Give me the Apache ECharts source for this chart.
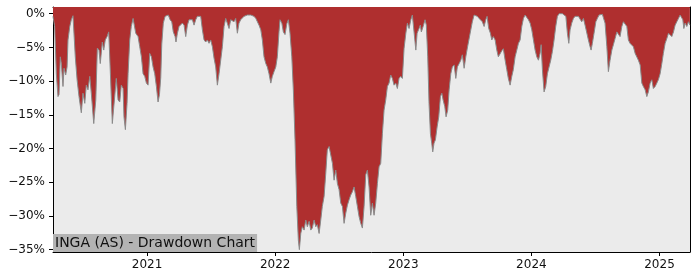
<!DOCTYPE html>
<html>
<head>
<meta charset="utf-8">
<script src="https://cdn.jsdelivr.net/npm/echarts@6/dist/echarts.min.js"></script>
<style>
html,body{margin:0;padding:0;background:#fff;}
#chart{width:700px;height:280px;}
</style>
</head>
<body>
<div id="chart"></div>
<script>
// decimal years (time) of each observation
const years = [
2020.266,2020.279,2020.292,2020.305,2020.313,2020.323,2020.331,2020.344,2020.352,2020.365,
2020.376,2020.383,2020.397,2020.409,2020.422,2020.432,2020.440,2020.454,2020.469,2020.487,
2020.500,2020.514,2020.526,2020.539,2020.553,2020.565,2020.584,2020.600,2020.612,2020.625,
2020.635,2020.651,2020.662,2020.674,2020.688,2020.701,2020.714,2020.729,2020.742,2020.760,
2020.774,2020.787,2020.799,2020.813,2020.820,2020.831,2020.844,2020.852,2020.865,2020.877,
2020.891,2020.899,2020.912,2020.930,2020.943,2020.956,2020.969,2020.982,2020.995,2021.008,
2021.021,2021.034,2021.047,2021.060,2021.073,2021.086,2021.097,2021.107,2021.115,2021.127,
2021.141,2021.154,2021.166,2021.180,2021.193,2021.205,2021.219,2021.226,2021.237,2021.250,
2021.263,2021.276,2021.289,2021.302,2021.315,2021.328,2021.341,2021.354,2021.367,2021.380,
2021.393,2021.406,2021.419,2021.432,2021.445,2021.458,2021.471,2021.484,2021.497,2021.510,
2021.523,2021.536,2021.549,2021.562,2021.575,2021.588,2021.601,2021.614,2021.627,2021.640,
2021.653,2021.666,2021.679,2021.692,2021.705,2021.718,2021.731,2021.744,2021.757,2021.770,
2021.783,2021.796,2021.810,2021.822,2021.835,2021.849,2021.861,2021.874,2021.888,2021.900,
2021.913,2021.927,2021.939,2021.952,2021.966,2021.978,2021.991,2022.005,2022.017,2022.030,
2022.038,2022.052,2022.064,2022.077,2022.091,2022.103,2022.116,2022.130,2022.142,2022.155,
2022.169,2022.181,2022.189,2022.200,2022.212,2022.226,2022.239,2022.251,2022.265,2022.278,
2022.290,2022.304,2022.317,2022.329,2022.343,2022.356,2022.368,2022.382,2022.395,2022.407,
2022.421,2022.434,2022.447,2022.460,2022.473,2022.486,2022.499,2022.512,2022.525,2022.538,
2022.551,2022.564,2022.577,2022.590,2022.603,2022.616,2022.629,2022.642,2022.655,2022.668,
2022.681,2022.694,2022.707,2022.720,2022.733,2022.746,2022.759,2022.772,2022.785,2022.798,
2022.811,2022.824,2022.837,2022.850,2022.863,2022.876,2022.889,2022.902,2022.915,2022.928,
2022.941,2022.954,2022.967,2022.980,2022.993,2023.006,2023.020,2023.032,2023.045,2023.059,
2023.071,2023.084,2023.098,2023.108,2023.123,2023.133,2023.141,2023.155,2023.170,2023.180,
2023.191,2023.201,2023.212,2023.222,2023.230,2023.240,2023.251,2023.264,2023.277,2023.290,
2023.301,2023.311,2023.324,2023.334,2023.347,2023.358,2023.371,2023.383,2023.397,2023.410,
2023.422,2023.436,2023.449,2023.461,2023.475,2023.488,2023.500,2023.514,2023.527,2023.539,
2023.553,2023.566,2023.578,2023.592,2023.605,2023.617,2023.631,2023.644,2023.654,2023.667,
2023.680,2023.691,2023.703,2023.717,2023.730,2023.742,2023.756,2023.769,2023.781,2023.795,
2023.808,2023.820,2023.834,2023.847,2023.859,2023.873,2023.886,2023.899,2023.912,2023.925,
2023.938,2023.951,2023.964,2023.977,2023.990,2024.003,2024.016,2024.029,2024.042,2024.055,
2024.068,2024.076,2024.086,2024.099,2024.112,2024.125,2024.138,2024.151,2024.164,2024.177,
2024.190,2024.203,2024.216,2024.230,2024.242,2024.255,2024.269,2024.281,2024.292,2024.302,
2024.315,2024.328,2024.341,2024.354,2024.367,2024.380,2024.393,2024.406,2024.419,2024.433,
2024.445,2024.458,2024.466,2024.476,2024.489,2024.503,2024.515,2024.528,2024.542,2024.554,
2024.562,2024.575,2024.589,2024.601,2024.614,2024.628,2024.640,2024.653,2024.667,2024.679,
2024.692,2024.706,2024.718,2024.731,2024.745,2024.757,2024.770,2024.784,2024.796,2024.810,
2024.823,2024.835,2024.849,2024.862,2024.874,2024.888,2024.901,2024.913,2024.927,2024.940,
2024.952,2024.966,2024.979,2024.991,2025.005,2025.018,2025.030,2025.044,2025.057,2025.070,
2025.083,2025.096,2025.109,2025.122,2025.135,2025.148,2025.161,2025.174,2025.182,2025.190,
2025.200,2025.213,2025.226,2025.237
];
// drawdown in percent
const drawdown = [
-0.4,-1.9,-8.9,-12.3,-12.0,-6.4,-7.4,-10.8,-8.1,-9.1,
-7.9,-3.9,-1.9,-0.9,-0.3,-0.2,-6.4,-9.8,-12.3,-14.7,
-11.8,-13.3,-10.6,-11.3,-9.3,-11.8,-16.3,-12.8,-5.1,-5.4,
-7.4,-4.2,-5.4,-3.9,-3.4,-2.7,-8.9,-16.3,-16.5,-9.6,
-12.8,-13.1,-10.6,-11.1,-15.3,-17.2,-13.3,-8.9,-3.9,-1.9,
-0.7,-0.9,-2.9,-3.4,-4.9,-6.4,-8.9,-9.3,-10.3,-10.6,
-5.9,-6.4,-7.9,-8.9,-10.8,-13.1,-12.0,-9.5,-4.5,-1.4,
-0.4,-0.2,-0.2,-0.9,-1.2,-2.7,-3.4,-4.2,-2.9,-1.9,
-1.7,-1.4,-1.7,-3.4,-1.7,-0.9,-0.7,-0.9,-1.7,-0.9,
-0.4,-0.2,-0.4,-2.4,-3.9,-4.2,-3.9,-4.4,-3.9,-4.9,
-6.6,-7.9,-10.6,-8.9,-6.9,-4.9,-1.9,-0.7,-0.9,-2.2,
-0.9,-0.9,-1.2,-0.7,-2.9,-1.4,-0.9,-0.7,-0.4,-0.4,
-0.2,0,-0.2,-0.2,-0.4,-0.7,-0.9,-1.7,-2.4,-3.9,
-6.4,-7.4,-7.9,-8.9,-10.3,-9.3,-8.6,-7.9,-6.4,-2.7,
-0.9,-1.4,-2.7,-3.1,-1.5,-0.9,-2.9,-6.4,-11.3,-18.7,
-28.6,-33.6,-35.0,-32.6,-31.6,-32.1,-30.6,-31.6,-30.8,-32.1,
-31.8,-30.6,-31.6,-31.3,-32.6,-30.6,-28.6,-27.1,-23.7,-20.2,
-19.7,-19.5,-22.2,-24.7,-23.2,-25.2,-26.1,-28.1,-28.6,-31.1,
-29.6,-28.4,-27.6,-26.9,-26.4,-25.7,-27.1,-28.6,-30.1,-31.1,
-31.8,-28.6,-23.9,-23.2,-25.7,-29.9,-28.1,-29.9,-28.1,-25.2,
-22.7,-22.2,-17.8,-14.3,-12.8,-10.8,-10.3,-9.1,-9.6,-10.6,
-10.3,-11.1,-9.6,-9.3,-9.6,-5.2,-2.9,-1.4,-2.2,-0.9,
-0.2,-0.4,-5.4,-2.9,-2.2,-1.7,-2.7,-1.9,-0.9,-1.7,
-6.4,-13.3,-17.8,-19.2,-20.5,-19.2,-18.7,-16.8,-15.3,-12.3,
-11.8,-12.8,-13.8,-15.3,-14.3,-11.3,-8.9,-7.9,-7.6,-9.6,
-7.9,-7.4,-6.9,-6.1,-8.1,-6.4,-5.1,-4.9,-2.4,-1.2,
-0.2,-0.4,-0.4,-0.7,-0.9,-1.2,-1.9,-0.9,-0.4,-2.2,
-2.9,-3.9,-3.4,-3.9,-5.4,-6.4,-6.6,-5.5,-5.2,-6.9,
-8.3,-9.6,-10.6,-9.3,-8.3,-6.4,-5.4,-4.4,-3.9,-1.9,
-0.7,-0.2,-0.4,-0.9,-1.4,-2.4,-3.9,-5.4,-6.4,-6.9,
-5.9,-4.6,-8.3,-11.6,-10.8,-8.9,-7.9,-6.9,-5.6,-3.9,
-1.9,-0.4,0,0,0,-0.2,-0.4,-2.9,-4.4,-2.4,
-1.4,-0.7,-0.4,-0.2,-0.4,-0.4,-1.2,-0.7,-1.7,-1.9,
-3.9,-4.9,-5.4,-4.4,-2.9,-1.2,-0.7,-0.2,0,-0.1,
-0.3,-1.4,-4.9,-8.6,-6.9,-5.4,-4.6,-3.7,-2.7,-2.9,
-3.4,-1.9,-1.2,-1.2,-1.9,-3.9,-4.4,-4.4,-4.9,-5.9,
-6.1,-6.9,-7.6,-10.3,-10.8,-11.3,-12.3,-11.6,-10.3,-9.8,
-11.1,-10.8,-10.3,-9.8,-8.9,-7.4,-5.9,-4.4,-3.7,-2.9,
-3.1,-3.4,-2.7,-1.7,-1.2,-0.7,-0.2,-0.4,-0.9,-2.2,
-1.4,-1.9,-1.2,-1.7
];
const xTicks = [2021, 2022, 2023, 2024, 2025];
const yTicks = [0, -5, -10, -15, -20, -25, -30, -35];
const titleText = 'INGA (AS) - Drawdown Chart';

const seriesData = years.map((y, i) => [y, drawdown[i]]);
const FONT = 'DejaVu Sans';

const chart = echarts.init(document.getElementById('chart'), null, {renderer: 'canvas'});
chart.setOption({
  animation: false,
  backgroundColor: '#ffffff',
  title: {
    text: titleText,
    left: 53,
    bottom: 28,
    padding: [2, 2, 1, 2],
    backgroundColor: '#b3b3b3',
    itemGap: 0,
    z: 10,
    textStyle: {fontFamily: FONT, fontSize: 14, fontWeight: 'normal', color: '#111', lineHeight: 15}
  },
  grid: {
    left: 53, right: 10, top: 7, bottom: 28,
    show: true, backgroundColor: '#ebebeb', borderWidth: 0
  },
  xAxis: [{
    type: 'value',
    min: 2020.266, max: 2025.238,
    splitLine: {show: false},
    axisLine: {show: true, onZero: false, lineStyle: {color: '#000', width: 1}},
    axisTick: {show: true, length: 4, lineStyle: {color: '#000'}, customValues: xTicks},
    axisLabel: {customValues: xTicks, formatter: v => String(Math.round(v)), fontFamily: FONT, fontSize: 12, color: '#111', margin: 7}
  }, {
    type: 'value', position: 'top',
    min: 2020.266, max: 2025.238,
    splitLine: {show: false},
    axisLine: {show: true, onZero: false, lineStyle: {color: '#000', width: 1}},
    axisTick: {show: false}, axisLabel: {show: false}
  }],
  yAxis: [{
    type: 'value',
    min: -35.35, max: 0.99,
    splitLine: {show: false},
    axisLine: {show: true, onZero: false, lineStyle: {color: '#000', width: 1}},
    axisTick: {show: true, length: 4, lineStyle: {color: '#000'}, customValues: yTicks},
    axisLabel: {
      customValues: yTicks,
      formatter: v => (v < 0 ? '\u2212' + Math.abs(v) : String(v)) + '%',
      fontFamily: FONT, fontSize: 12, color: '#111', margin: 8
    }
  }, {
    type: 'value', position: 'right',
    min: -35.35, max: 0.99,
    splitLine: {show: false},
    axisLine: {show: true, onZero: false, lineStyle: {color: '#000', width: 1}},
    axisTick: {show: false}, axisLabel: {show: false}
  }],
  series: [{
    type: 'line',
    data: seriesData,
    xAxisIndex: 0, yAxisIndex: 0,
    showSymbol: false,
    symbol: 'none',
    lineStyle: {color: '#8a8a8a', width: 1},
    areaStyle: {color: '#af2f2f', opacity: 1, origin: 'end'},
    z: 2
  }]
});
</script>
</body>
</html>
